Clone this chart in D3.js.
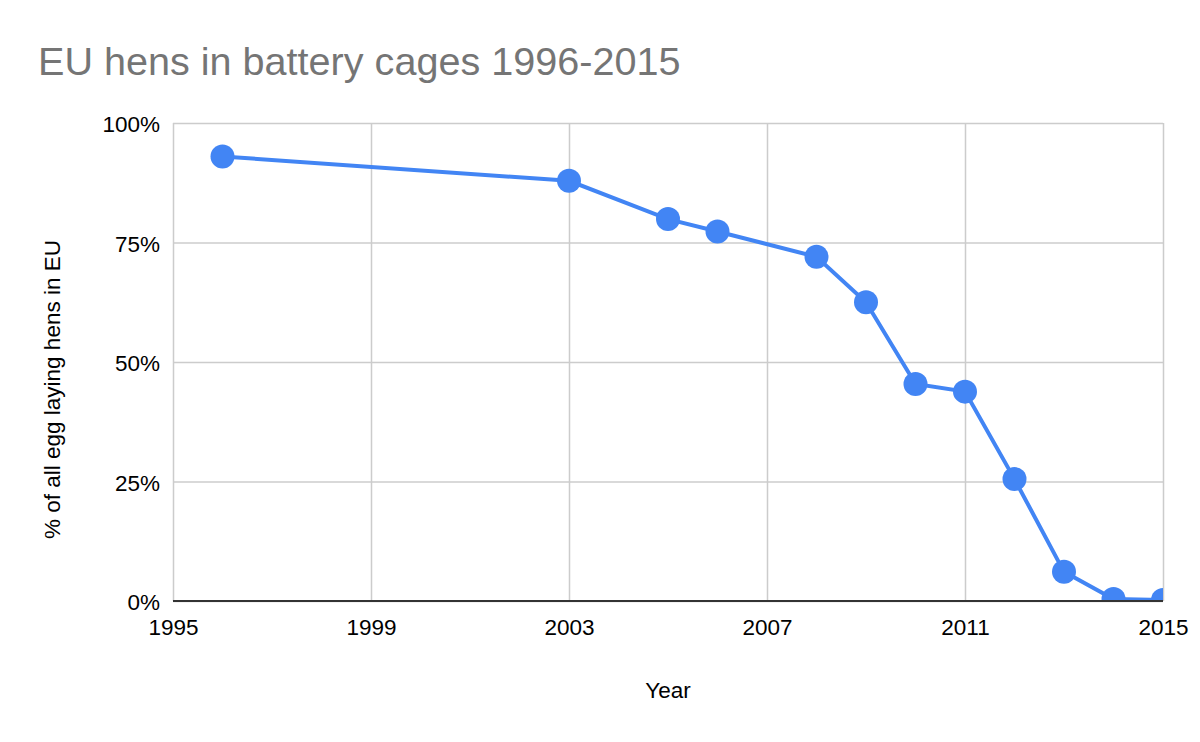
<!DOCTYPE html>
<html>
<head>
<meta charset="utf-8">
<script src="https://cdn.jsdelivr.net/npm/d3@7"></script>
<style>
	body { margin: 0; background: #fff; }
	text { font-family: "Liberation Sans", Arial, sans-serif; }
</style>
</head>
<body>
<svg id="plot" width="1200" height="742"></svg>
<script>
const YEARS = [1996, 2003, 2005, 2006, 2008, 2009, 2010, 2011, 2012, 2013, 2014, 2015];
const SHARE = [93.0, 87.9, 79.9, 77.3, 72.0, 62.5, 45.4, 43.8, 25.5, 6.1, 0.4, 0.2];
const X_TICKS = [1995, 1999, 2003, 2007, 2011, 2015];
const Y_TICKS = [0, 25, 50, 75, 100];

const data = YEARS.map((y, i) => ({ x: y, y: SHARE[i] }));

const MARGIN = { top: 123, right: 37, bottom: 141, left: 173 };
const LABEL_SIZE = 22.5;

function draw() {
	var svg = d3.select('#plot');
	var width = 1200 - MARGIN.left - MARGIN.right;
	var height = 742 - MARGIN.top - MARGIN.bottom;

	var x = d3.scaleLinear().domain([1995, 2015]).range([0, width]);
	var y = d3.scaleLinear().domain([0, 100]).range([height, 0]);

	svg.append('text')
		.attr('x', 38)
		.attr('y', 75)
		.attr('font-size', 39.6)
		.attr('fill', '#757575')
		.text('EU hens in battery cages 1996-2015');

	var g = svg.append('g')
		.attr('transform', `translate(${MARGIN.left}, ${MARGIN.top})`);

	// grid
	g.append('g')
		.call(d3.axisLeft(y).tickValues(Y_TICKS).tickSize(-width).tickFormat(''))
		.call(a => a.select('.domain').remove())
		.selectAll('line').attr('stroke', '#cccccc').attr('stroke-width', 1.5);
	g.append('g')
		.call(d3.axisBottom(x).tickValues(X_TICKS).tickSize(height).tickFormat(''))
		.call(a => a.select('.domain').remove())
		.selectAll('line').attr('stroke', '#cccccc').attr('stroke-width', 1.5);

	// tick labels
	g.append('g')
		.call(d3.axisLeft(y).tickValues(Y_TICKS).tickSize(0).tickPadding(13).tickFormat(d => d + '%'))
		.call(a => a.select('.domain').remove())
		.selectAll('text')
		.attr('font-size', LABEL_SIZE)
		.attr('fill', '#000')
		.attr('dy', '0.38em');
	g.append('g')
		.attr('transform', `translate(0, ${height})`)
		.call(d3.axisBottom(x).tickValues(X_TICKS).tickSize(0).tickPadding(18).tickFormat(d3.format('d')))
		.call(a => a.select('.domain').remove())
		.selectAll('text')
		.attr('font-size', LABEL_SIZE)
		.attr('fill', '#000');

	// clip to plot
	svg.append('clipPath').attr('id', 'clip')
		.append('rect').attr('width', width).attr('height', height);

	var series = g.append('g').attr('clip-path', 'url(#clip)');
	series.append('path')
		.datum(data)
		.attr('fill', 'none')
		.attr('stroke', '#4285f4')
		.attr('stroke-width', 4)
		.attr('d', d3.line().x(d => x(d.x)).y(d => y(d.y)));
	series.selectAll('circle')
		.data(data)
		.enter()
		.append('circle')
			.attr('cx', d => x(d.x))
			.attr('cy', d => y(d.y))
			.attr('r', 12)
			.attr('fill', '#4285f4');

	// baseline
	g.append('line')
		.attr('x1', 0).attr('x2', width)
		.attr('y1', height).attr('y2', height)
		.attr('stroke', '#333').attr('stroke-width', 2);

	// axis titles
	svg.append('text')
		.attr('x', MARGIN.left + width / 2)
		.attr('y', 698)
		.attr('text-anchor', 'middle')
		.attr('font-size', LABEL_SIZE)
		.attr('fill', '#000')
		.text('Year');
	svg.append('text')
		.attr('transform', `translate(60, 539) rotate(-90)`)
		.attr('font-size', LABEL_SIZE)
		.attr('fill', '#000')
		.text('% of all egg laying hens in EU');
}

draw();
</script>
</body>
</html>
